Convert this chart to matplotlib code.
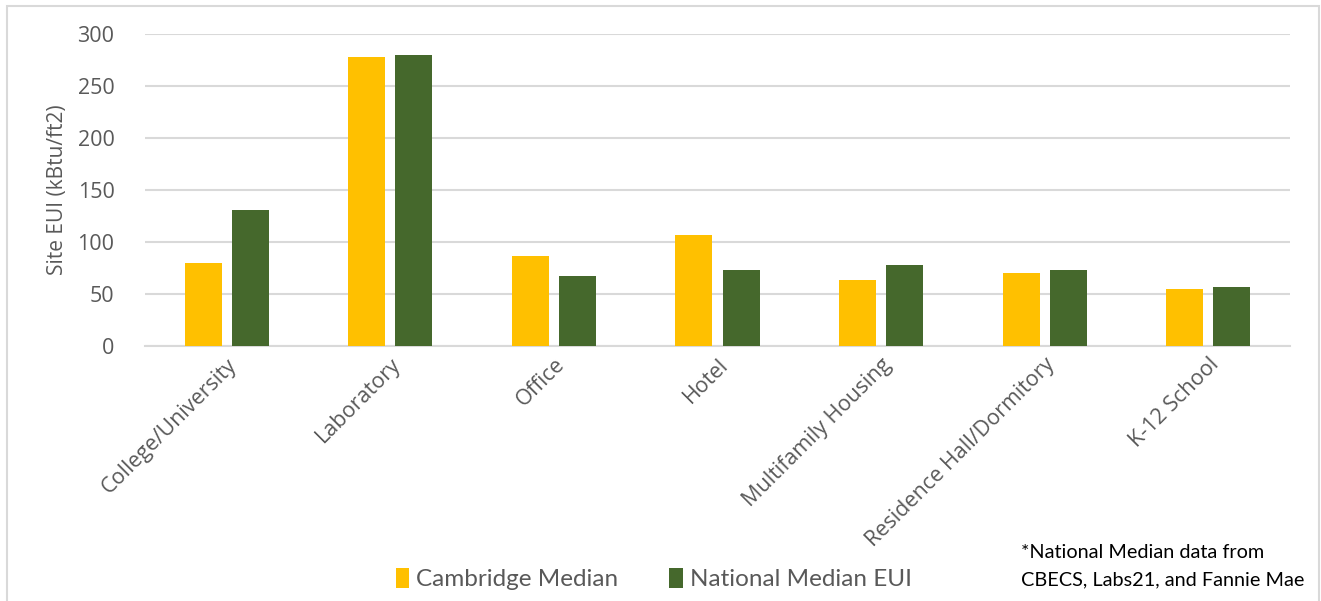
import numpy as np
import matplotlib.pyplot as plt
from matplotlib.patches import Rectangle

# --- Data ---
categories = ["College/University", "Laboratory", "Office", "Hotel",
              "Multifamily Housing", "Residence Hall/Dormitory", "K-12 School"]
cambridge = [80, 278, 87, 107, 63, 70, 55]
national = [131, 280, 67, 73, 78, 73, 57]
series_names = ["Cambridge Median", "National Median EUI"]

yellow = "#FFC000"
green = "#45682C"
txt = "#595959"

fig = plt.figure(figsize=(13.21, 6.01), dpi=100)
ax = fig.add_axes([0.1098, 0.4243, 0.8667, 0.5191])

x = np.arange(len(categories))
w = 0.226
off = 0.144
ax.bar(x - off, cambridge, w, color=yellow, label=series_names[0], zorder=3)
ax.bar(x + off, national, w, color=green, label=series_names[1], zorder=3)

ax.set_xlim(-0.5, len(categories) - 0.5)
ax.set_ylim(0, 300)
ax.set_yticks(range(0, 301, 50))
ax.grid(True, axis="y", color="#d9d9d9", linewidth=1.5, zorder=0)
for s in ["top", "right", "left"]:
    ax.spines[s].set_visible(False)
ax.spines["bottom"].set_color("#d9d9d9")
ax.spines["bottom"].set_linewidth(1.5)
ax.tick_params(axis="both", length=0, colors=txt, labelsize=15.5)
ax.tick_params(axis="y", pad=22)
ax.tick_params(axis="x", pad=6)
ax.set_xticks(x)
ax.set_xticklabels(categories, rotation=45, ha="right", rotation_mode="anchor",
                   fontsize=15.5, color=txt, family="Open Sans")
for lab in ax.get_yticklabels():
    lab.set_family("Open Sans")
ax.set_ylabel("Site EUI (kBtu/ft2)", fontsize=15, color=txt,
              family="Open Sans", labelpad=7)

# --- Legend ---
fig.legend(loc="center", bbox_to_anchor=(0.495, 0.036), ncol=2, frameon=False,
           prop={"family": "Lato", "size": 17.5}, labelcolor=txt,
           handlelength=0.55, handleheight=0.85, handletextpad=0.3,
           columnspacing=2.1)

# --- Footnote ---
fig.text(0.773, 0.08, "*National Median data from", fontsize=14.3,
         family="Lato", color="black", va="center", ha="left")
fig.text(0.773, 0.035, "CBECS, Labs21, and Fannie Mae", fontsize=14.3,
         family="Lato", color="black", va="center", ha="left")

# --- Chart border ---
fig.patches.append(Rectangle((0.0053, -0.1), 0.9932, 1.09, transform=fig.transFigure,
                             fill=False, edgecolor="#d9d9d9", linewidth=1.5))

plt.savefig("out.png", dpi=100)
